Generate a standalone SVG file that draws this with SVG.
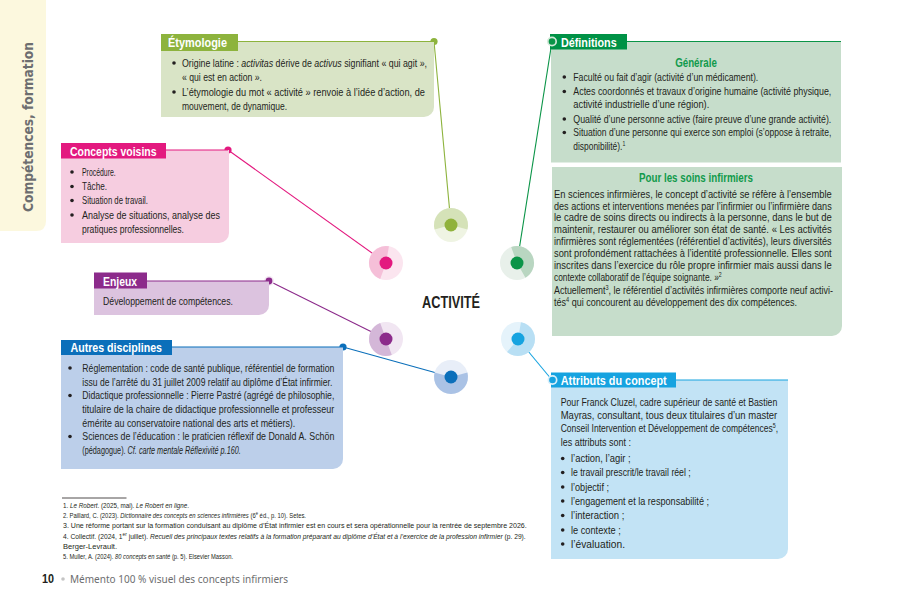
<svg xmlns="http://www.w3.org/2000/svg" width="899" height="597" viewBox="0 0 899 597">
<style>
.t{font-family:"Liberation Sans Narrow","Liberation Sans",Arial,sans-serif;font-size:10.5px;fill:#231f20}
.fn{font-size:7px}
.h{font-family:"Liberation Sans Narrow","Liberation Sans",Arial,sans-serif;font-weight:bold;font-size:13px;fill:#fff}
.sh{font-family:"Liberation Sans Narrow","Liberation Sans",Arial,sans-serif;font-weight:bold;font-size:12px;fill:#119a4c}
.i{font-style:italic}
.sup{font-size:6.5px}
.b{fill:#231f20}
.con{fill:none;stroke-width:1.1}
</style>
<rect width="899" height="597" fill="#fff"/>
<!-- side bar -->
<g id="sidebar">
<path d="M0 0H46V221Q46 231 36 231H0Z" fill="#fcf8de"/>
<text transform="translate(33,127) rotate(-90)" text-anchor="middle" textLength="170" lengthAdjust="spacingAndGlyphs" style="font-family:'DejaVu Sans','Liberation Sans',sans-serif;font-weight:bold;font-size:14px;fill:#6d6e70">Compétences, formation</text>
</g>

<!-- connectors -->
<g id="connectors">
<line class="con" x1="434" y1="41.5" x2="451" y2="225" stroke="#8db33d"/>
<line class="con" x1="228" y1="150" x2="386" y2="263" stroke="#e3197f"/>
<line class="con" x1="269" y1="281" x2="386" y2="339" stroke="#8c2b8b"/>
<line class="con" x1="343" y1="347" x2="451" y2="377" stroke="#0b6fba"/>
<line class="con" x1="552" y1="41.5" x2="517" y2="263" stroke="#0a9447"/>
<line class="con" x1="518" y1="339" x2="552" y2="380" stroke="#16a3e0"/>
<circle cx="434" cy="41.5" r="3.6" fill="#8db33d"/>
<circle cx="228" cy="150" r="3.6" fill="#e3197f"/>
<circle cx="269" cy="281" r="5" fill="#f3e8f3"/>
<circle cx="269" cy="281" r="3.4" fill="#8c2b8b"/>
<circle cx="343" cy="347" r="3.6" fill="#0b6fba"/>
</g>

<!-- hub circles -->
<g id="hub">
<circle cx="451" cy="225" r="17" fill="#eff4e3"/>
<path d="M451 225L434.58 229.4A17 17 0 1 1 467.42 229.4Z" fill="#d5e2b8"/>
<circle cx="451" cy="225" r="6.5" fill="#90b23b"/>

<circle cx="386" cy="263" r="17" fill="#fbe5ef"/>
<path d="M386 263L380.19 278.98A17 17 0 0 1 388.95 246.26Z" fill="#f5bfd8"/>
<circle cx="386" cy="263" r="6.5" fill="#e3197f"/>

<circle cx="517" cy="263" r="17" fill="#e8f0ea"/>
<path d="M517 263L511.19 247.02A17 17 0 0 1 525.5 277.72Z" fill="#b9d6c1"/>
<circle cx="517" cy="263" r="6.5" fill="#0a9447"/>

<circle cx="386" cy="339" r="17" fill="#f1e6f2"/>
<path d="M386 339L391.81 354.98A17 17 0 0 1 380.19 323.02Z" fill="#d4b7d8"/>
<circle cx="386" cy="339" r="6.5" fill="#8c2b8b"/>

<circle cx="518" cy="339" r="17" fill="#e5f3fb"/>
<path d="M518 339L520.95 322.26A17 17 0 1 1 507.07 352.02Z" fill="#b8dff4"/>
<circle cx="518" cy="339" r="6.5" fill="#16a3e0"/>

<circle cx="451" cy="377" r="17" fill="#e8eef8"/>
<path d="M451 377L467.42 372.6A17 17 0 1 1 434.58 372.6Z" fill="#aac2e5"/>
<circle cx="451" cy="377" r="6.5" fill="#0b6fba"/>

<text x="451" y="308" text-anchor="middle" textLength="58" lengthAdjust="spacingAndGlyphs" style="font-family:'Liberation Sans Narrow','Liberation Sans',Arial,sans-serif;font-weight:bold;font-size:16px;fill:#231f20">ACTIVITÉ</text>
</g>

<!-- Étymologie -->
<g id="etymologie">
<path d="M161 41.5H434V107A10 10 0 0 1 424 117H161Z" fill="#d9e4c6"/>
<line x1="238" y1="41.5" x2="434" y2="41.5" stroke="#8db33d" stroke-width="1.1"/>
<rect x="161" y="34" width="77" height="17" fill="#8db33d"/>
<text class="h" x="168" y="47" textLength="59" lengthAdjust="spacingAndGlyphs">Étymologie</text>
<circle class="b" cx="174" cy="63" r="1.8"/>
<circle class="b" cx="174" cy="92" r="1.8"/>
<text class="t" x="182" y="66.5" textLength="245" lengthAdjust="spacingAndGlyphs">Origine latine : <tspan class="i">activitas</tspan> dérive de <tspan class="i">activus</tspan> signifiant « qui agit »,</text>
<text class="t" x="182" y="81" textLength="80" lengthAdjust="spacingAndGlyphs">« qui est en action ».</text>
<text class="t" x="182" y="95.5" textLength="243" lengthAdjust="spacingAndGlyphs">L’étymologie du mot « activité » renvoie à l’idée d’action, de</text>
<text class="t" x="182" y="110" textLength="105" lengthAdjust="spacingAndGlyphs">mouvement, de dynamique.</text>
</g>

<!-- Concepts voisins -->
<g id="concepts-voisins">
<path d="M61 150H229V233A10 10 0 0 1 219 243H61Z" fill="#f6cde0"/>
<line x1="166" y1="150" x2="228" y2="150" stroke="#e3197f" stroke-width="1.1"/>
<rect x="61" y="143" width="105" height="15.5" fill="#e3197f"/>
<text class="h" x="70" y="155.5" textLength="86.5" lengthAdjust="spacingAndGlyphs">Concepts voisins</text>
<circle class="b" cx="72" cy="172" r="1.8"/>
<circle class="b" cx="72" cy="186.5" r="1.8"/>
<circle class="b" cx="72" cy="200.5" r="1.8"/>
<circle class="b" cx="72" cy="215" r="1.8"/>
<text class="t" x="82" y="175.5" textLength="33.7" lengthAdjust="spacingAndGlyphs">Procédure.</text>
<text class="t" x="82" y="190" textLength="25" lengthAdjust="spacingAndGlyphs">Tâche.</text>
<text class="t" x="82" y="204" textLength="66" lengthAdjust="spacingAndGlyphs">Situation de travail.</text>
<text class="t" x="82" y="218.5" textLength="138" lengthAdjust="spacingAndGlyphs">Analyse de situations, analyse des</text>
<text class="t" x="82" y="233" textLength="102" lengthAdjust="spacingAndGlyphs">pratiques professionnelles.</text>
</g>

<!-- Enjeux -->
<g id="enjeux">
<path d="M94 281H269V305A10 10 0 0 1 259 315H94Z" fill="#dcc3df"/>
<line x1="147" y1="281" x2="269" y2="281" stroke="#8c2b8b" stroke-width="1.1"/>
<rect x="94" y="272.5" width="53" height="16" fill="#8c2b8b"/>
<text class="h" x="103" y="285.5" textLength="34" lengthAdjust="spacingAndGlyphs">Enjeux</text>
<text class="t" x="103" y="304.5" textLength="130" lengthAdjust="spacingAndGlyphs">Développement de compétences.</text>
</g>

<!-- Autres disciplines -->
<g id="autres-disciplines">
<path d="M61 347H343V459A10 10 0 0 1 333 469H61Z" fill="#bccfea"/>
<line x1="172" y1="347" x2="343" y2="347" stroke="#0b6fba" stroke-width="1.1"/>
<rect x="61" y="340" width="111" height="15" fill="#0b6fba"/>
<text class="h" x="70.5" y="352" textLength="91.5" lengthAdjust="spacingAndGlyphs">Autres disciplines</text>
<circle class="b" cx="70" cy="368" r="1.8"/>
<circle class="b" cx="70" cy="395.5" r="1.8"/>
<circle class="b" cx="70" cy="436.5" r="1.8"/>
<text class="t" x="82.3" y="371.5" textLength="252" lengthAdjust="spacingAndGlyphs">Réglementation : code de santé publique, référentiel de formation</text>
<text class="t" x="82.3" y="385.5" textLength="250" lengthAdjust="spacingAndGlyphs">issu de l’arrêté du 31 juillet 2009 relatif au diplôme d’État infirmier.</text>
<text class="t" x="82.3" y="399" textLength="252" lengthAdjust="spacingAndGlyphs">Didactique professionnelle : Pierre Pastré (agrégé de philosophie,</text>
<text class="t" x="82.3" y="412.5" textLength="252" lengthAdjust="spacingAndGlyphs">titulaire de la chaire de didactique professionnelle et professeur</text>
<text class="t" x="82.3" y="426.5" textLength="213" lengthAdjust="spacingAndGlyphs">émérite au conservatoire national des arts et métiers).</text>
<text class="t" x="82.3" y="440" textLength="252" lengthAdjust="spacingAndGlyphs">Sciences de l’éducation : le praticien réflexif de Donald A. Schön</text>
<text class="t" x="82.3" y="454" textLength="158.5" lengthAdjust="spacingAndGlyphs">(pédagogue). <tspan class="i">Cf. carte mentale Réflexivité p.160.</tspan></text>
</g>

<!-- Définitions -->
<g id="definitions">
<rect x="551" y="41.5" width="290" height="121" fill="#c6ddcb"/>
<path d="M552 167H842V326A10 10 0 0 1 832 336H552Z" fill="#c6ddcb"/>
<line x1="627" y1="41.5" x2="841" y2="41.5" stroke="#0a9447" stroke-width="1.1"/>
<rect x="550" y="34" width="77" height="15.5" fill="#009246"/>
<circle cx="552" cy="41.5" r="5" fill="#d3e9d9"/>
<circle cx="552" cy="41.5" r="3.3" fill="#0a9447"/>
<text class="h" x="561" y="46.5" textLength="55.7" lengthAdjust="spacingAndGlyphs">Définitions</text>
<text class="sh" x="696" y="66.5" text-anchor="middle" textLength="41.7" lengthAdjust="spacingAndGlyphs">Générale</text>
<circle class="b" cx="564.3" cy="77" r="1.8"/>
<circle class="b" cx="564.3" cy="91.5" r="1.8"/>
<circle class="b" cx="564.3" cy="119" r="1.8"/>
<circle class="b" cx="564.3" cy="132.5" r="1.8"/>
<text class="t" x="573.3" y="80.5" textLength="185" lengthAdjust="spacingAndGlyphs">Faculté ou  fait d’agir (activité d’un médicament).</text>
<text class="t" x="573.3" y="95" textLength="258" lengthAdjust="spacingAndGlyphs">Actes coordonnés et travaux d’origine humaine (activité physique,</text>
<text class="t" x="573.3" y="108" textLength="136" lengthAdjust="spacingAndGlyphs">activité industrielle d’une région).</text>
<text class="t" x="573.3" y="122.5" textLength="258" lengthAdjust="spacingAndGlyphs">Qualité d’une personne active (faire preuve d’une grande activité).</text>
<text class="t" x="573.3" y="136" textLength="258" lengthAdjust="spacingAndGlyphs">Situation d’une personne qui exerce son emploi (s’oppose à retraite,</text>
<text class="t" x="573.3" y="149.5" textLength="52" lengthAdjust="spacingAndGlyphs">disponibilité).<tspan class="sup" dy="-4">1</tspan></text>
<text class="sh" x="696" y="182" text-anchor="middle" textLength="114" lengthAdjust="spacingAndGlyphs">Pour les soins infirmiers</text>
<text class="t" x="554" y="197.5" textLength="277.7" lengthAdjust="spacingAndGlyphs">En sciences infirmières, le concept d’activité se réfère à l’ensemble</text>
<text class="t" x="554" y="209.5" textLength="277.7" lengthAdjust="spacingAndGlyphs">des actions et interventions menées par l’infirmier ou l’infirmière dans</text>
<text class="t" x="554" y="221" textLength="277.7" lengthAdjust="spacingAndGlyphs">le cadre de soins directs ou indirects à la personne, dans le but de</text>
<text class="t" x="554" y="233" textLength="277.7" lengthAdjust="spacingAndGlyphs">maintenir, restaurer ou améliorer son état de santé. « Les activités</text>
<text class="t" x="554" y="245" textLength="277.7" lengthAdjust="spacingAndGlyphs">infirmières sont réglementées (référentiel d’activités), leurs diversités</text>
<text class="t" x="554" y="257" textLength="277.7" lengthAdjust="spacingAndGlyphs">sont profondément rattachées à l’identité professionnelle. Elles sont</text>
<text class="t" x="554" y="269" textLength="277.7" lengthAdjust="spacingAndGlyphs">inscrites dans l’exercice du rôle propre infirmier mais aussi dans le</text>
<text class="t" x="554" y="281" textLength="167.7" lengthAdjust="spacingAndGlyphs">contexte collaboratif de l’équipe soignante. »<tspan class="sup" dy="-4">2</tspan></text>
<text class="t" x="554" y="293.5" textLength="279" lengthAdjust="spacingAndGlyphs">Actuellement<tspan class="sup" dy="-4">3</tspan><tspan dy="4">, le référentiel d’activités infirmières comporte neuf activi-</tspan></text>
<text class="t" x="554" y="305.5" textLength="243" lengthAdjust="spacingAndGlyphs">tés<tspan class="sup" dy="-4">4</tspan><tspan dy="4"> qui concourent au développement des dix compétences.</tspan></text>
</g>

<!-- Attributs du concept -->
<g id="attributs">
<path d="M551 380H788V549A10 10 0 0 1 778 559H551Z" fill="#c2e3f5"/>
<line x1="676" y1="380" x2="788" y2="380" stroke="#16a3e0" stroke-width="1.1"/>
<rect x="551" y="372.5" width="125" height="15" fill="#16a3e0"/>
<circle cx="552.5" cy="380" r="5" fill="#d9effa"/>
<circle cx="552.5" cy="380" r="3.3" fill="#16a3e0"/>
<text class="h" x="560.7" y="384.5" textLength="106" lengthAdjust="spacingAndGlyphs">Attributs du concept</text>
<text class="t" x="560.7" y="405.5" textLength="216.6" lengthAdjust="spacingAndGlyphs">Pour Franck Cluzel, cadre supérieur de santé et Bastien</text>
<text class="t" x="560.7" y="418.5" textLength="216.6" lengthAdjust="spacingAndGlyphs">Mayras, consultant, tous deux titulaires d’un master</text>
<text class="t" x="560.7" y="432" textLength="217.3" lengthAdjust="spacingAndGlyphs">Conseil Intervention et Développement de compétences<tspan class="sup" dy="-4">5</tspan><tspan dy="4">,</tspan></text>
<text class="t" x="560.7" y="446" textLength="70.3" lengthAdjust="spacingAndGlyphs">les attributs sont :</text>
<circle class="b" cx="562.7" cy="458.5" r="1.8"/>
<circle class="b" cx="562.7" cy="472.5" r="1.8"/>
<circle class="b" cx="562.7" cy="487" r="1.8"/>
<circle class="b" cx="562.7" cy="501" r="1.8"/>
<circle class="b" cx="562.7" cy="515.5" r="1.8"/>
<circle class="b" cx="562.7" cy="530" r="1.8"/>
<circle class="b" cx="562.7" cy="544" r="1.8"/>
<text class="t" x="571" y="462" textLength="59.7" lengthAdjust="spacingAndGlyphs">l’action, l’agir ;</text>
<text class="t" x="571" y="476" textLength="119.7" lengthAdjust="spacingAndGlyphs">le travail prescrit/le travail réel ;</text>
<text class="t" x="571" y="490.5" textLength="38" lengthAdjust="spacingAndGlyphs">l’objectif ;</text>
<text class="t" x="571" y="504.5" textLength="138" lengthAdjust="spacingAndGlyphs">l’engagement et la responsabilité ;</text>
<text class="t" x="571" y="519" textLength="53.3" lengthAdjust="spacingAndGlyphs">l’interaction ;</text>
<text class="t" x="571" y="533.5" textLength="49.7" lengthAdjust="spacingAndGlyphs">le contexte ;</text>
<text class="t" x="571" y="547.5" textLength="54" lengthAdjust="spacingAndGlyphs">l’évaluation.</text>
</g>

<!-- footnotes -->
<g id="footnotes">
<line x1="62" y1="498" x2="126.5" y2="498" stroke="#231f20" stroke-width="0.8"/>
<text class="t fn" x="63" y="508" textLength="126" lengthAdjust="spacingAndGlyphs">1. <tspan class="i">Le Robert</tspan>. (2025, mai). <tspan class="i">Le Robert en ligne</tspan>.</text>
<text class="t fn" x="63" y="518" textLength="243" lengthAdjust="spacingAndGlyphs">2. Paillard, C. (2023). <tspan class="i">Dictionnaire des concepts en sciences infirmières</tspan> (6<tspan font-size="5" dy="-3">e</tspan><tspan dy="3"> éd., p. 10). Setes.</tspan></text>
<text class="t fn" x="63" y="528" textLength="463.7" lengthAdjust="spacingAndGlyphs">3. Une réforme portant sur la formation conduisant au diplôme d’État infirmier est en cours et sera opérationnelle pour la rentrée de septembre 2026.</text>
<text class="t fn" x="63" y="538.5" textLength="462.7" lengthAdjust="spacingAndGlyphs">4. Collectif. (2024, 1<tspan font-size="5" dy="-3">er</tspan><tspan dy="3"> juillet). </tspan><tspan class="i">Recueil des principaux textes relatifs à la formation préparant au diplôme d’État et à l’exercice de la profession infirmier</tspan> (p. 29).</text>
<text class="t fn" x="63" y="548.5" textLength="54" lengthAdjust="spacingAndGlyphs">Berger-Levrault.</text>
<text class="t fn" x="63" y="559" textLength="170" lengthAdjust="spacingAndGlyphs">5. Muller, A. (2024). <tspan class="i">80 concepts en santé</tspan> (p. 5). Elsevier Masson.</text>
</g>

<!-- page footer -->
<g id="footer">
<text x="42" y="583" textLength="12" lengthAdjust="spacingAndGlyphs" style="font-family:'Liberation Sans',Arial,sans-serif;font-weight:bold;font-size:12px;fill:#231f20">10</text>
<circle cx="63" cy="579" r="1.8" fill="#c4c4c4"/>
<text x="70" y="583" textLength="218" lengthAdjust="spacingAndGlyphs" style="font-family:'Noto Sans','Open Sans',sans-serif;font-size:10.5px;fill:#6d6e70">Mémento 100 % visuel des concepts infirmiers</text>
</g>
</svg>
